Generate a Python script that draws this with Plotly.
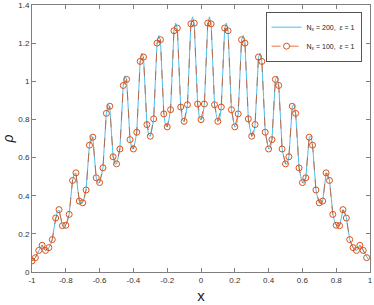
import plotly.graph_objects as go

# N_x = 100 run (circles), x = -1 : 0.02 : 0.98
x100 = [round(-1 + 0.02 * i, 2) for i in range(100)]
rho100 = [0.058, 0.075, 0.113, 0.140, 0.113, 0.128, 0.170, 0.283, 0.327, 0.243,
          0.245, 0.302, 0.480, 0.520, 0.372, 0.363, 0.430, 0.665, 0.707, 0.494,
          0.469, 0.546, 0.832, 0.869, 0.604, 0.567, 0.645, 0.978, 1.010, 0.694,
          0.645, 0.733, 1.104, 1.127, 0.773, 0.712, 0.803, 1.200, 1.218, 0.829,
          0.761, 0.851, 1.265, 1.279, 0.865, 0.790, 0.877, 1.301, 1.305, 0.881,
          0.799, 0.881, 1.305, 1.301, 0.877, 0.790, 0.865, 1.279, 1.265, 0.851,
          0.761, 0.829, 1.218, 1.200, 0.803, 0.712, 0.773, 1.127, 1.104, 0.733,
          0.645, 0.694, 1.010, 0.978, 0.645, 0.567, 0.604, 0.869, 0.832, 0.546,
          0.469, 0.494, 0.707, 0.665, 0.430, 0.363, 0.372, 0.520, 0.480, 0.302,
          0.245, 0.243, 0.327, 0.283, 0.170, 0.128, 0.113, 0.140, 0.113, 0.075]

# N_x = 200 run (line), x = -1 : 0.01 : 0.99
x200 = [round(-1 + 0.01 * i, 2) for i in range(200)]
rho200 = [0.056, 0.066, 0.076, 0.095, 0.112, 0.130, 0.141, 0.124, 0.112, 0.118,
          0.127, 0.145, 0.170, 0.228, 0.285, 0.318, 0.325, 0.282, 0.243, 0.240,
          0.246, 0.268, 0.303, 0.395, 0.482, 0.515, 0.518, 0.440, 0.372, 0.360,
          0.363, 0.390, 0.432, 0.552, 0.667, 0.715, 0.705, 0.597, 0.493, 0.466,
          0.469, 0.500, 0.547, 0.693, 0.834, 0.880, 0.867, 0.733, 0.604, 0.566,
          0.566, 0.600, 0.646, 0.815, 0.980, 1.028, 1.008, 0.850, 0.694, 0.648,
          0.645, 0.682, 0.734, 0.922, 1.106, 1.148, 1.125, 0.948, 0.773, 0.718,
          0.711, 0.750, 0.804, 1.004, 1.202, 1.240, 1.216, 1.022, 0.829, 0.767,
          0.760, 0.798, 0.852, 1.060, 1.267, 1.305, 1.277, 1.070, 0.865, 0.798,
          0.789, 0.826, 0.878, 1.090, 1.303, 1.338, 1.303, 1.092, 0.881, 0.812,
          0.798, 0.812, 0.881, 1.092, 1.303, 1.338, 1.303, 1.090, 0.878, 0.826,
          0.789, 0.798, 0.865, 1.070, 1.277, 1.305, 1.267, 1.060, 0.852, 0.798,
          0.760, 0.767, 0.829, 1.022, 1.216, 1.240, 1.202, 1.004, 0.804, 0.750,
          0.711, 0.718, 0.773, 0.948, 1.125, 1.148, 1.106, 0.922, 0.734, 0.682,
          0.645, 0.648, 0.694, 0.850, 1.008, 1.028, 0.980, 0.815, 0.646, 0.600,
          0.566, 0.566, 0.604, 0.733, 0.867, 0.880, 0.834, 0.693, 0.547, 0.500,
          0.469, 0.466, 0.493, 0.597, 0.705, 0.715, 0.667, 0.552, 0.432, 0.390,
          0.363, 0.360, 0.372, 0.440, 0.518, 0.515, 0.482, 0.395, 0.303, 0.268,
          0.246, 0.240, 0.243, 0.282, 0.325, 0.318, 0.285, 0.228, 0.170, 0.145,
          0.127, 0.118, 0.112, 0.124, 0.141, 0.130, 0.112, 0.095, 0.076, 0.066]

xticks = [-1, -0.8, -0.6, -0.4, -0.2, 0, 0.2, 0.4, 0.6, 0.8, 1]
xlabels = ['-1', '-0.8', '-0.6', '-0.4', '-0.2', '0', '0.2', '0.4', '0.6', '0.8', '1']
yticks = [0, 0.2, 0.4, 0.6, 0.8, 1, 1.2, 1.4]
ylabels = ['0', '0.2', '0.4', '0.6', '0.8', '1', '1.2', '1.4']

font = 'Liberation Sans, Arial, sans-serif'

fig = go.Figure()

fig.add_trace(go.Scatter(x=x200, y=rho200, mode='lines',
                         line=dict(color='#4DBEEE', width=1),
                         name='N<sub>x</sub> = 200,  <i>ε</i> = 1'))

fig.add_trace(go.Scatter(x=x100, y=rho100, mode='lines+markers',
                         line=dict(color='#D95319', width=0.8, dash='dash'),
                         marker=dict(symbol='circle-open', size=6,
                                     color='#D95319', line=dict(width=1)),
                         name='N<sub>x</sub> = 100,  <i>ε</i> = 1'))

axis_common = dict(showgrid=False, zeroline=False, showline=True, mirror='allticks',
                   linecolor='#7f7f7f', linewidth=1, ticks='inside', ticklen=4,
                   tickcolor='#7f7f7f', automargin=False,
                   tickfont=dict(size=8, color='#333333', family=font))

fig.update_xaxes(range=[-1, 1], tickvals=xticks, ticktext=xlabels,
                 title=dict(text='x', font=dict(size=15, color='#222222', family=font),
                            standoff=6),
                 **axis_common)
fig.update_yaxes(range=[0, 1.4], tickvals=yticks, ticktext=ylabels,
                 title=dict(text='<i>ρ</i>', font=dict(size=14, color='#222222', family=font),
                            standoff=6),
                 **axis_common)

fig.update_layout(
    width=374, height=305,
    margin=dict(l=32, r=4, t=5, b=33),
    plot_bgcolor='white', paper_bgcolor='white',
    font=dict(family=font, size=8, color='#222222'),
    legend=dict(x=0.975, y=0.975, xanchor='right', yanchor='top',
                bgcolor='white', bordercolor='#555555', borderwidth=1,
                font=dict(size=7, family=font), itemwidth=30,
                tracegroupgap=0),
)

fig.write_html("out.html", config={'displayModeBar': False},
               post_script="document.body.style.margin='0';")
